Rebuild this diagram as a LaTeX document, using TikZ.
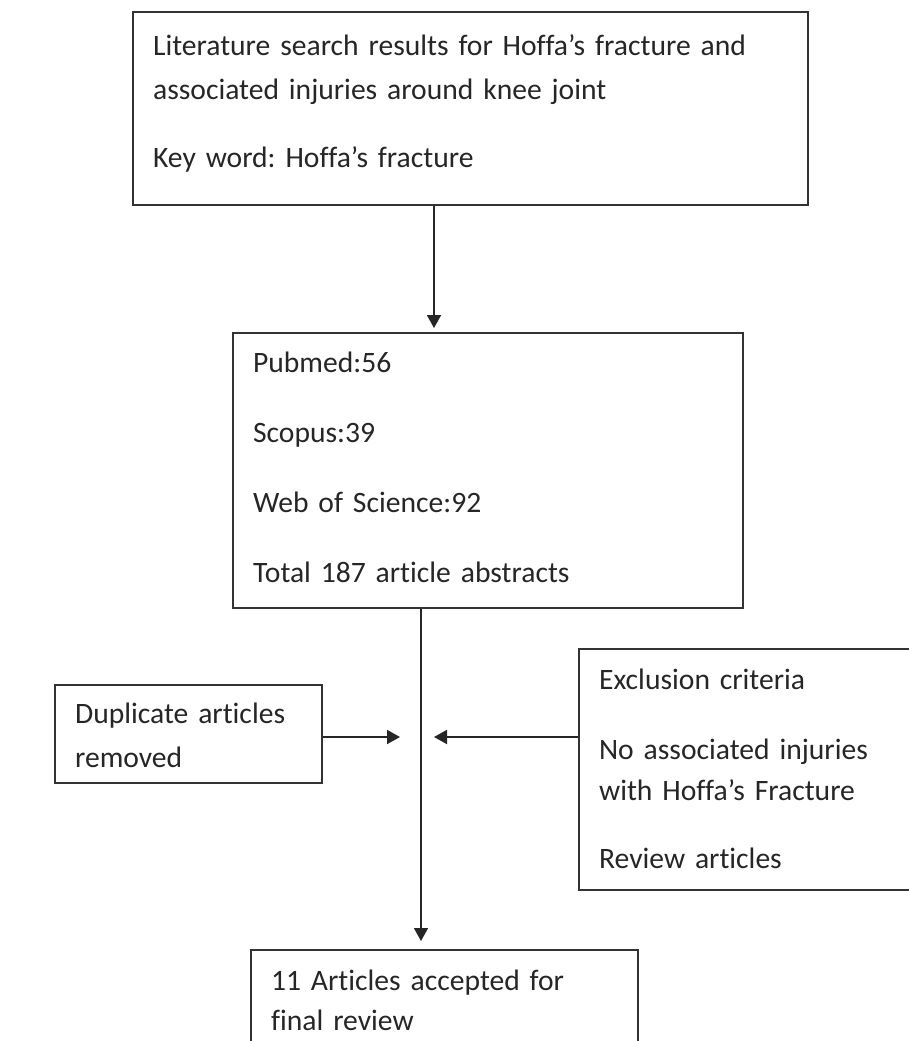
\documentclass[tikz,border=0pt]{standalone}
\usepackage{fontspec}
\setmainfont{Carlito}[Ligatures=NoCommon]
\usetikzlibrary{arrows.meta}

\tikzset{
  stage/.style={draw=black!80, line width=1.1pt, anchor=north west, align=left,
    inner xsep=10pt, inner ysep=0pt, text=black!85,
    font=\fontsize{14.8pt}{22pt}\selectfont\frenchspacing},
  flow/.style={draw=black!85, line width=0.9pt, -{Triangle[length=6.5pt,width=7pt]}}
}

\begin{document}
\begin{tikzpicture}[x=0.5pt, y=-0.5pt]
  \useasboundingbox (0,0) rectangle (909,1041);

  % 检索与数据库
  \node[stage, text width=317.5pt, text height=21.5pt, text depth=75pt] (search) at (132,11)
    {Literature search results for Hoffa’s fracture and\\associated injuries around knee joint\\[12pt]Key word: Hoffa’s fracture};
  \node[stage, text width=235pt, text height=19.5pt, text depth=118pt] (sources) at (232,332)
    {Pubmed:56\\[13pt]Scopus:39\\[13pt]Web of Science:92\\[13pt]Total 187 article abstracts};

  % 排除
  \node[stage, text width=113.5pt, text height=19pt, text depth=30pt] (dup) at (54,684)
    {Duplicate articles\\removed};
  \node[stage, text width=151pt, text height=20pt, text depth=100.5pt] (excl) at (578,648)
    {Exclusion criteria\\[13pt]No associated injuries\\[-1.5pt]with Hoffa’s Fracture\\[12pt]Review articles};

  % 结果
  \node[stage, text width=173.5pt, text height=20pt, text depth=40pt] (final) at (250,949)
    {11 Articles accepted for\\[-2pt]final review};

  % 箭头
  \coordinate (trunk) at (434,0);
  \coordinate (spine) at (421,0);
  \coordinate (dupin) at (400,737);
  \coordinate (exclin) at (434,737);
  \draw[flow, shorten >=2pt] (search.south -| trunk) -- (sources.north -| trunk);
  \draw[flow, shorten >=4pt] (sources.south -| spine) -- (final.north -| spine);
  \draw[flow] (dupin -| dup.east) -- (dupin);
  \draw[flow] (exclin -| excl.west) -- (exclin);
\end{tikzpicture}
\end{document}
